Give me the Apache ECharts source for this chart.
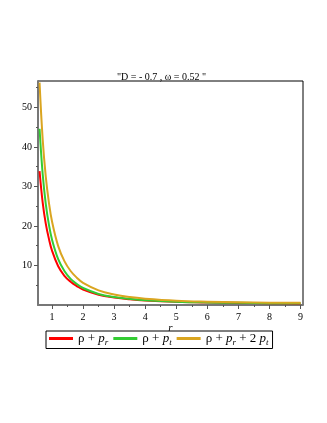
<!DOCTYPE html>
<html>
<head>
<meta charset="UTF-8">
<title>D = -0.7, omega = 0.52</title>
<script src="https://cdn.jsdelivr.net/npm/echarts@6/dist/echarts.min.js"></script>
<style>
html,body{margin:0;padding:0;background:#fff;}
#main{width:327px;height:423px;}
</style>
</head>
<body>
<div id="main"></div>
<script>
// values
var rVals    = [0.6, 0.7, 0.8, 0.9, 1.0, 1.2, 1.4, 1.6, 1.8, 2.0, 2.5, 3.0, 3.5, 4.0, 5.0, 6.0, 7.0, 8.0, 9.0];
var rhoPr    = [33.9, 26.0, 20.6, 16.8, 13.8, 9.8, 7.4, 5.9, 4.8, 3.9, 2.6, 1.9, 1.45, 1.15, 0.8, 0.62, 0.52, 0.45, 0.4];
var rhoPt    = [44.6, 33.2, 25.6, 20.4, 16.6, 11.6, 8.6, 6.6, 5.3, 4.3, 2.8, 2.0, 1.55, 1.22, 0.85, 0.65, 0.54, 0.47, 0.42];
var rhoPrPt2 = [56.3, 42.0, 32.5, 26.0, 21.2, 14.9, 11.1, 8.6, 6.9, 5.6, 3.7, 2.65, 2.0, 1.6, 1.1, 0.85, 0.7, 0.6, 0.55];
var xTicks   = [1, 2, 3, 4, 5, 6, 7, 8, 9];
var xMinor   = [1.5, 2.5, 3.5, 4.5, 5.5, 6.5, 7.5, 8.5];
var yTicks   = [10, 20, 30, 40, 50];
var yMinor   = [5, 15, 25, 35, 45, 55];

function pairs(ys){
	var out = [];
	for (var i = 0; i < rVals.length; i++) out.push([rVals[i], ys[i]]);
	return out;
}

var serif = 'Liberation Serif';
var chart = echarts.init(document.getElementById('main'));

var legendRich = {
	n: {fontFamily: serif, fontSize: 13, color: '#000', lineHeight: 18, verticalAlign: 'middle'},
	i: {fontFamily: serif, fontSize: 13, fontStyle: 'italic', color: '#000', lineHeight: 18, verticalAlign: 'middle'},
	s: {fontFamily: serif, fontSize: 9, fontStyle: 'italic', color: '#000', lineHeight: 18, verticalAlign: 'bottom'}
};

chart.setOption({
	animation: false,
	title: {
		text: '"D = - 0.7 , ω = 0.52 "',
		left: 112, top: 67,
		textStyle: {fontFamily: serif, fontSize: 10, fontWeight: 'normal', color: '#000'}
	},
	grid: {
		left: 38, right: 24, top: 81, bottom: 118,
		show: true, borderColor: '#000', borderWidth: 1, backgroundColor: 'transparent'
	},
	legend: {
		left: 46, top: 331,
		padding: [1, 4, 1, 3],
		borderColor: '#000', borderWidth: 1,
		icon: 'rect', itemWidth: 24, itemHeight: 3, itemGap: 5,
		data: ['a', 'b', 'c'],
		formatter: function(name){
			if (name === 'a') return '{n|ρ + }{i|p}{s|r}';
			if (name === 'b') return '{n|ρ + }{i|p}{s|t}';
			return '{n|ρ + }{i|p}{s|r}{n| + 2 }{i|p}{s|t}';
		},
		textStyle: {rich: legendRich}
	},
	xAxis: [{
		type: 'value', min: 0.55, max: 9.08,
		name: 'r', nameLocation: 'middle', nameGap: 18, nameMoveOverlap: false,
		nameTextStyle: {fontFamily: serif, fontStyle: 'italic', fontSize: 11, color: '#000'},
		axisLine: {onZero: false, lineStyle: {color: '#777', width: 2}},
		axisTick: {show: true, inside: false, length: 4, customValues: xTicks, lineStyle: {color: '#555'}},
		axisLabel: {customValues: xTicks, margin: 7, fontFamily: serif, fontSize: 10, color: '#000'},
		splitLine: {show: false}
	}, {
		type: 'value', min: 0.55, max: 9.08, position: 'bottom',
		axisLine: {show: false},
		axisTick: {show: true, length: 2, customValues: xMinor, lineStyle: {color: '#555'}},
		axisLabel: {show: false},
		splitLine: {show: false}
	}],
	yAxis: [{
		type: 'value', min: 0, max: 56.7,
		axisLine: {show: true, onZero: false, lineStyle: {color: '#777', width: 2}},
		axisTick: {show: true, length: 4, customValues: yTicks, lineStyle: {color: '#555'}},
		axisLabel: {customValues: yTicks, margin: 6, fontFamily: serif, fontSize: 10, color: '#000'},
		splitLine: {show: false}
	}, {
		type: 'value', min: 0, max: 56.7, position: 'left',
		axisLine: {show: false},
		axisTick: {show: true, length: 2, customValues: yMinor, lineStyle: {color: '#555'}},
		axisLabel: {show: false},
		splitLine: {show: false}
	}],
	series: [{
		name: 'a', type: 'line', data: pairs(rhoPr), smooth: 0.4, showSymbol: false,
		lineStyle: {color: '#ff0000', width: 2}, itemStyle: {color: '#ff0000'}
	}, {
		name: 'b', type: 'line', data: pairs(rhoPt), smooth: 0.4, showSymbol: false,
		lineStyle: {color: '#33cc33', width: 2}, itemStyle: {color: '#33cc33'}
	}, {
		name: 'c', type: 'line', data: pairs(rhoPrPt2), smooth: 0.4, showSymbol: false,
		lineStyle: {color: '#daa520', width: 2}, itemStyle: {color: '#daa520'}
	}]
});
</script>
</body>
</html>
